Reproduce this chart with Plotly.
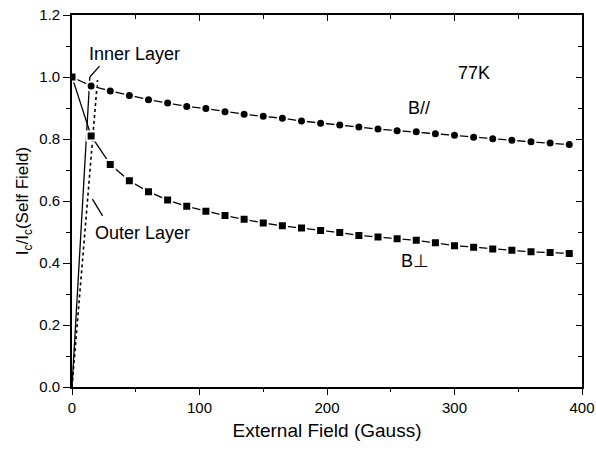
import plotly.graph_objects as go

# ---- data ----
field_par = [0, 15, 30, 45, 60, 75, 90, 105, 120, 135, 150, 165, 180, 195, 210,
             225, 240, 255, 270, 285, 300, 315, 330, 345, 360, 375, 390]
ic_par = [1.0, 0.971, 0.955, 0.94, 0.927, 0.916, 0.905, 0.898, 0.888, 0.880,
          0.873, 0.867, 0.858, 0.851, 0.845, 0.839, 0.832, 0.827, 0.823, 0.817,
          0.812, 0.806, 0.801, 0.796, 0.791, 0.787, 0.782]

field_perp = field_par
ic_perp = [1.0, 0.81, 0.718, 0.665, 0.63, 0.603, 0.583, 0.567, 0.553, 0.541,
           0.529, 0.520, 0.513, 0.505, 0.498, 0.489, 0.484, 0.478, 0.473, 0.465,
           0.456, 0.451, 0.445, 0.441, 0.436, 0.434, 0.431]

inner_x = [0, 14]
inner_y = [0.0, 1.0]
outer_x = [0, 20]
outer_y = [0.0, 0.99]

x_range = [0, 400]
y_range = [0, 1.2]
x_ticks = [0, 100, 200, 300, 400]
y_ticks = [0.0, 0.2, 0.4, 0.6, 0.8, 1.0, 1.2]

# label leader lines (tail -> tip), data coordinates
inner_leader = dict(x0=21.6, y0=1.035, x1=14, y1=1.0)
outer_leader = dict(x0=24, y0=0.552, x1=16, y1=0.606)

FONT = "Liberation Sans, Arial, sans-serif"

fig = go.Figure()

# load lines
fig.add_trace(go.Scatter(x=inner_x, y=inner_y, mode="lines",
                         line=dict(color="black", width=1.3), showlegend=False))
fig.add_trace(go.Scatter(x=outer_x, y=outer_y, mode="lines",
                         line=dict(color="black", width=1.6, dash="dot"), showlegend=False))

# data series
fig.add_trace(go.Scatter(x=field_par, y=ic_par, mode="lines+markers",
                         line=dict(color="black", width=1.3),
                         marker=dict(symbol="circle", size=9, color="black",
                                     line=dict(color="white", width=2)),
                         showlegend=False))
fig.add_trace(go.Scatter(x=field_perp, y=ic_perp, mode="lines+markers",
                         line=dict(color="black", width=1.3),
                         marker=dict(symbol="square", size=9, color="black",
                                     line=dict(color="white", width=2)),
                         showlegend=False))

# empty trace for the mirrored axes
fig.add_trace(go.Scatter(x=[], y=[], xaxis="x2", yaxis="y2", showlegend=False))

axis_common = dict(showgrid=False, zeroline=False, linecolor="black", linewidth=1.6,
                   tickcolor="black", tickwidth=1.3, automargin=False)

fig.update_layout(
    width=596, height=450,
    margin=dict(l=72, r=14, t=15, b=63),
    paper_bgcolor="white", plot_bgcolor="white",
    font=dict(family=FONT, size=15, color="black"),
    xaxis=dict(range=x_range, tickvals=x_ticks, ticks="outside", ticklen=6,
               minor=dict(dtick=50, ticks="outside", ticklen=3, tickcolor="black", tickwidth=1.2),
               title=dict(text="External Field (Gauss)", font=dict(size=19), standoff=9),
               tickfont=dict(size=15), **axis_common),
    yaxis=dict(range=y_range, tickvals=y_ticks, tickformat=".1f", ticks="outside", ticklen=7,
               minor=dict(dtick=0.1, ticks="outside", ticklen=4, tickcolor="black", tickwidth=1.2),
               title=dict(text="I<sub>c</sub>/I<sub>c</sub>(Self Field)", font=dict(size=17), standoff=6),
               tickfont=dict(size=15), **axis_common),
    xaxis2=dict(range=x_range, tickvals=x_ticks, overlaying="x", side="top", ticks="inside",
                ticklen=6, showticklabels=False,
                minor=dict(dtick=50, ticks="inside", ticklen=4, tickcolor="black", tickwidth=1.2),
                **axis_common),
    yaxis2=dict(range=y_range, tickvals=y_ticks, overlaying="y", side="right", ticks="inside",
                ticklen=6, showticklabels=False,
                minor=dict(dtick=0.1, ticks="inside", ticklen=4, tickcolor="black", tickwidth=1.2),
                **axis_common),
)

for ld in (inner_leader, outer_leader):
    fig.add_shape(type="line", xref="x", yref="y", line=dict(color="black", width=1.3), **ld)

ann_font = dict(family=FONT, size=18, color="black")
fig.add_annotation(x=49, y=1.074, text="Inner Layer", showarrow=False, font=ann_font)
fig.add_annotation(x=55, y=0.497, text="Outer Layer", showarrow=False, font=ann_font)
fig.add_annotation(x=315, y=1.013, text="77K", showarrow=False, font=ann_font)
fig.add_annotation(x=272, y=0.90, text="B//", showarrow=False, font=ann_font)
fig.add_annotation(x=269, y=0.406, text="B⊥", showarrow=False, font=ann_font)

fig.write_html("out.html")
